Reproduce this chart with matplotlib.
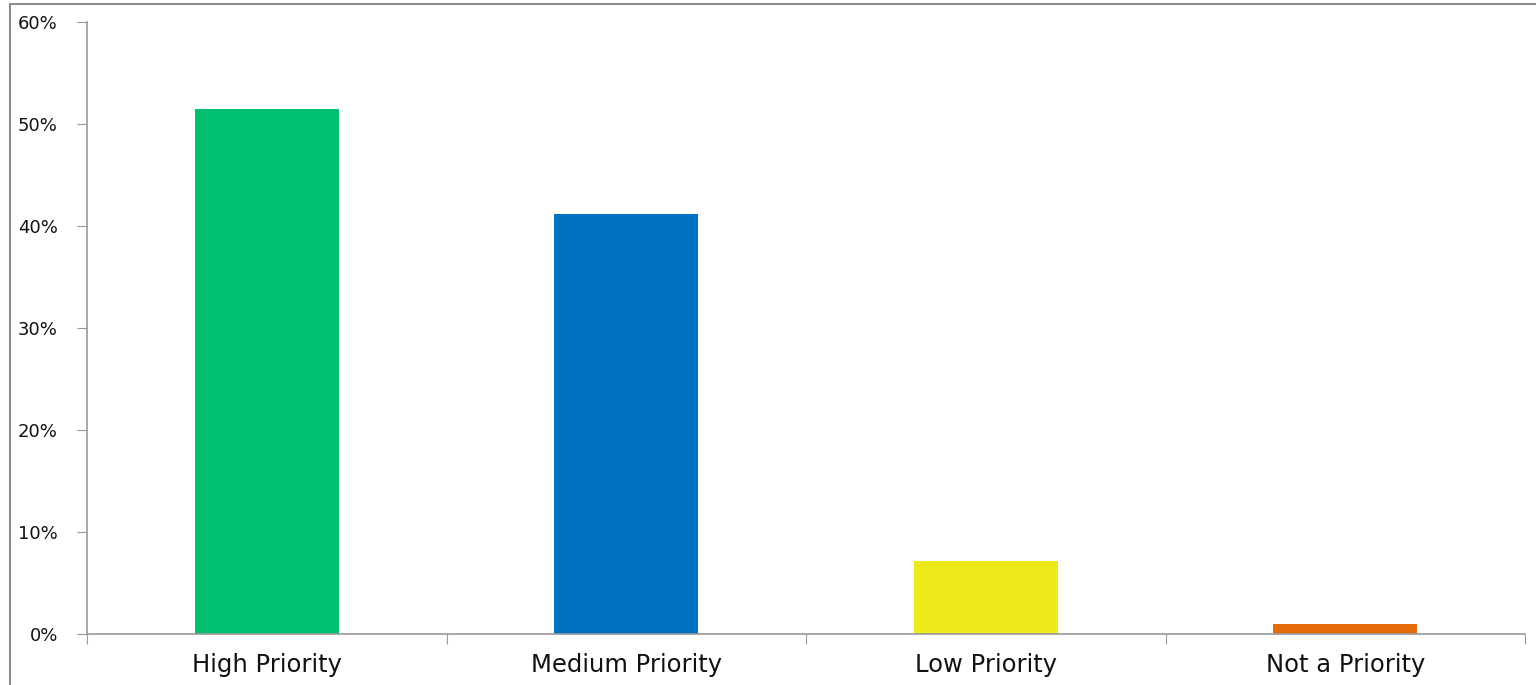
import matplotlib.pyplot as plt
import numpy as np
from matplotlib.patches import Rectangle
from matplotlib.ticker import FuncFormatter, FixedLocator

categories = ["High Priority", "Medium Priority", "Low Priority", "Not a Priority"]
shares = [51.5, 41.2, 7.2, 1.0]
colors = ["#00BF6F", "#0070C0", "#F0E91A", "#E46C0A"]

plt.rcParams["font.family"] = ["DejaVu Sans"]

fig = plt.figure(figsize=(15.36, 6.85), dpi=100)
ax = fig.add_axes([87 / 1536, (685 - 634) / 685, (1525 - 87) / 1536, (634 - 22) / 685])

x = np.arange(len(categories))
ax.bar(x, shares, width=0.4, color=colors, zorder=2)

ax.set_xlim(-0.5, len(categories) - 0.5)
ax.set_ylim(0, 60)
ax.set_yticks(np.arange(0, 61, 10))
ax.yaxis.set_major_formatter(FuncFormatter(lambda v, _: f"{v:.0f}%"))

# category labels centred, tick marks on the boundaries between groups
ax.xaxis.set_major_locator(FixedLocator(np.arange(-0.5, len(categories), 1.0)))
ax.set_xticklabels([])
ax.xaxis.set_minor_locator(FixedLocator(x))
ax.set_xticklabels(categories, minor=True)
ax.tick_params(axis="x", which="minor", length=0, labelsize=17.5, pad=14, labelcolor="#111111")
ax.tick_params(axis="x", which="major", length=7, color="#999999", direction="out")
ax.tick_params(axis="y", length=7, color="#999999", labelsize=13, pad=14, labelcolor="#111111")

for side in ("top", "right"):
    ax.spines[side].set_visible(False)
for side in ("left", "bottom"):
    ax.spines[side].set_color("#999999")
    ax.spines[side].set_linewidth(1.2)

# outer frame of the chart area
fig.patches.append(Rectangle((10 / 1536, -0.1), 1.2, (685 - 4) / 685 + 0.1,
                             transform=fig.transFigure, fill=False,
                             edgecolor="#8c8c8c", linewidth=1.5))

fig.savefig("out.png", dpi=100)
